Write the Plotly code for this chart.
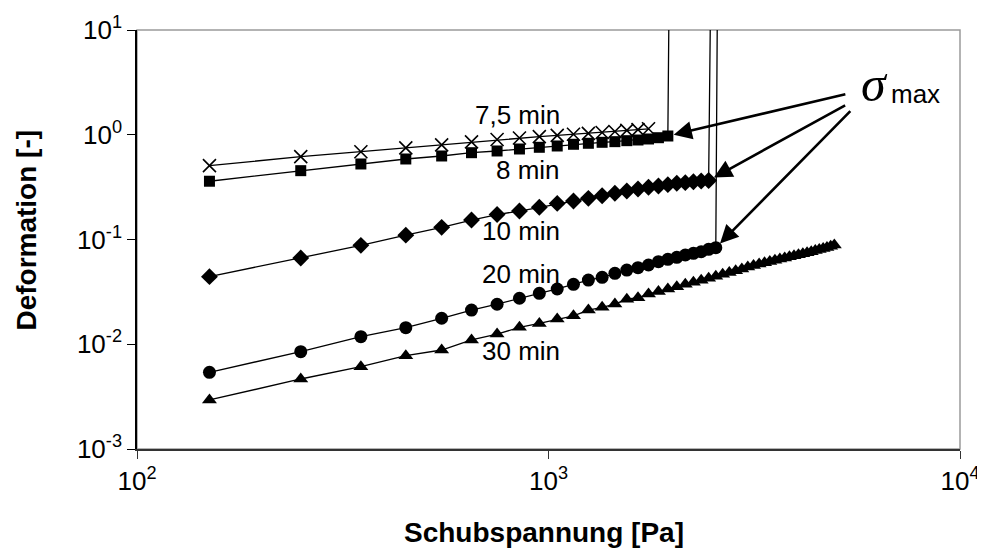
import numpy as np
import plotly.graph_objects as go

# Schubspannung [Pa] und Deformation [-] je Ruhezeit
x_7_5 = [150, 250, 350, 450, 550, 650, 750, 850, 950, 1050, 1150, 1250, 1350, 1450, 1550, 1650, 1750]
y_7_5 = [0.507, 0.618, 0.689, 0.750, 0.800, 0.855, 0.900, 0.930, 0.960, 0.985, 1.01, 1.03, 1.05,
         1.075, 1.10, 1.12, 1.14]

x_8 = [150, 250, 350, 450, 550, 650, 750, 850, 950, 1050, 1150, 1250, 1350, 1450, 1550, 1650, 1750,
       1850, 1950, 2050]
y_8 = [0.36, 0.454, 0.526, 0.587, 0.627, 0.674, 0.700, 0.731, 0.759, 0.781, 0.811, 0.829, 0.847,
       0.859, 0.878, 0.891, 0.911, 0.937, 0.973, 5e9]

x_10 = [150, 250, 350, 450, 550, 650, 750, 850, 950, 1050, 1150, 1250, 1350, 1450, 1550, 1650, 1750,
        1850, 1950, 2050, 2150, 2250, 2350, 2450, 2550]
y_10 = [0.0442, 0.0665, 0.0879, 0.110, 0.1306, 0.1535, 0.173, 0.187, 0.203, 0.221, 0.233, 0.247,
        0.262, 0.276, 0.290, 0.303, 0.315, 0.324, 0.334, 0.344, 0.349, 0.356, 0.362, 0.366, 1e6]

x_20 = [150, 250, 350, 450, 550, 650, 750, 850, 950, 1050, 1150, 1250, 1350, 1450, 1550, 1650, 1750,
        1850, 1950, 2050, 2150, 2250, 2350, 2450, 2550, 2650]
y_20 = [0.0054, 0.0085, 0.0118, 0.0144, 0.0177, 0.0212, 0.0241, 0.0275, 0.0306, 0.0337, 0.0373,
        0.0410, 0.0435, 0.0475, 0.0511, 0.0538, 0.0571, 0.0614, 0.0647, 0.0676, 0.0711, 0.0738,
        0.0764, 0.0805, 0.0835, 1e9]

x_30 = [150, 250, 350, 450, 550, 650, 750, 850, 950, 1050, 1150, 1250, 1350, 1450, 1550, 1650, 1750,
        1850, 1950, 2050, 2150, 2250, 2350, 2450, 2550, 2650, 2750, 2850, 2950, 3050, 3150, 3250,
        3350, 3450, 3550, 3650, 3750, 3850, 3950, 4050, 4150, 4250, 4350, 4450, 4550, 4650, 4750,
        4850, 4950]
y_30 = [0.00294, 0.00466, 0.0061, 0.00778, 0.00881, 0.0110, 0.0125, 0.0145, 0.0158, 0.0174, 0.0187,
        0.0212, 0.0225, 0.0242, 0.0269, 0.0278, 0.0302, 0.0318, 0.0337, 0.0354, 0.0373, 0.0391,
        0.0409, 0.0427, 0.0446, 0.0465, 0.0484, 0.0503, 0.0523, 0.0545, 0.0566, 0.0583, 0.0600,
        0.0617, 0.0634, 0.0650, 0.0667, 0.0683, 0.0699, 0.0716, 0.0732, 0.0748, 0.0765, 0.0784,
        0.0802, 0.0821, 0.0840, 0.0860, 0.0885]

x_ticks = [1e2, 1e3, 1e4]
x_ticktext = ['10<sup>2</sup>', '10<sup>3</sup>', '10<sup>4</sup>']
y_ticks = [1e-3, 1e-2, 1e-1, 1e0, 1e1]
y_ticktext = ['10<sup>-3</sup>', '10<sup>-2</sup>', '10<sup>-1</sup>', '10<sup>0</sup>', '10<sup>1</sup>']

FONT = 'Arial, Liberation Sans, sans-serif'

fig = go.Figure()

# Messreihen
series = [
    (x_7_5, y_7_5, dict(symbol='x-thin', size=13, line=dict(width=1.6, color='black'))),
    (x_8, y_8, dict(symbol='square', size=11)),
    (x_10, y_10, dict(symbol='diamond', size=13)),
    (x_20, y_20, dict(symbol='circle', size=13)),
    (x_30, y_30, dict(symbol='triangle-up', size=13)),
]
for xs, ys, mk in series:
    fig.add_scatter(x=xs, y=ys, mode='lines+markers',
                    line=dict(color='black', width=1.3),
                    marker=dict(color='black', **mk))

# gray frame (top/right)
fig.add_shape(type='rect', xref='paper', yref='paper', x0=0, x1=1, y0=0, y1=1,
              line=dict(color='#9a9a9a', width=1.5), layer='below')

# Kurvenbeschriftungen
labels = [('7,5 min', 0.516, 0.797), ('8 min', 0.516, 0.665), ('10 min', 0.516, 0.520),
          ('20 min', 0.516, 0.418), ('30 min', 0.516, 0.234)]
for txt, lx, ly in labels:
    fig.add_annotation(text=txt, xref='paper', yref='paper', x=lx, y=ly,
                       xanchor='right', yanchor='middle', showarrow=False,
                       font=dict(size=26, family=FONT))

# sigma_max with arrows to the last stable points
fig.add_annotation(text='<i>σ</i>', xref='paper', yref='paper', x=(874 - 137) / 823, y=(449 - 84) / 419,
                   xanchor='center', yanchor='middle', showarrow=False,
                   font=dict(size=50, family='Liberation Serif, Times New Roman, serif'))
fig.add_annotation(text='max', xref='paper', yref='paper', x=(889 - 137) / 823, y=(449 - 94) / 419,
                   xanchor='left', yanchor='middle', showarrow=False,
                   font=dict(size=26, family=FONT))

arrows = [(x_8[-2], y_8[-2], 179, -42), (x_10[-2], y_10[-2], 138, -76), (x_20[-2], y_20[-2], 136, -138)]
for ax_, ay_, dx, dy in arrows:
    fig.add_annotation(x=np.log10(ax_), y=np.log10(ay_), xref='x', yref='y', text='',
                       showarrow=True, ax=dx, ay=dy, arrowhead=2, arrowsize=1.4,
                       arrowwidth=2.6, arrowcolor='black', standoff=6)

# Achsentitel
fig.add_annotation(text='<b>Schubspannung [Pa]</b>', xref='paper', yref='paper', x=0.495, y=-0.2,
                   xanchor='center', yanchor='middle', showarrow=False, font=dict(size=28, family=FONT))
fig.add_annotation(text='<b>Deformation [-]</b>', xref='paper', yref='paper', x=-0.134, y=0.523,
                   xanchor='center', yanchor='middle', textangle=-90, showarrow=False,
                   font=dict(size=28, family=FONT))

# page body adds 8px margin -> figure slightly smaller, margins shifted
fig.update_layout(
    width=977, height=542,
    margin=dict(l=129, r=25, t=22, b=101, autoexpand=False),
    plot_bgcolor='white', paper_bgcolor='white',
    showlegend=False,
    font=dict(family=FONT, size=26, color='black'),
    xaxis=dict(type='log', range=[2, 4], tickvals=x_ticks, ticktext=x_ticktext,
               ticks='outside', ticklen=8, tickwidth=1.3, tickcolor='#333',
               showline=True, linecolor='#333', linewidth=1.6, automargin=False,
               showgrid=False, zeroline=False),
    yaxis=dict(type='log', range=[-3, 1], tickvals=y_ticks, ticktext=y_ticktext,
               ticks='outside', ticklen=8, tickwidth=1.3, tickcolor='black',
               showline=True, linecolor='black', linewidth=1.6, automargin=False,
               showgrid=False, zeroline=False),
)

fig.write_html("out.html")
